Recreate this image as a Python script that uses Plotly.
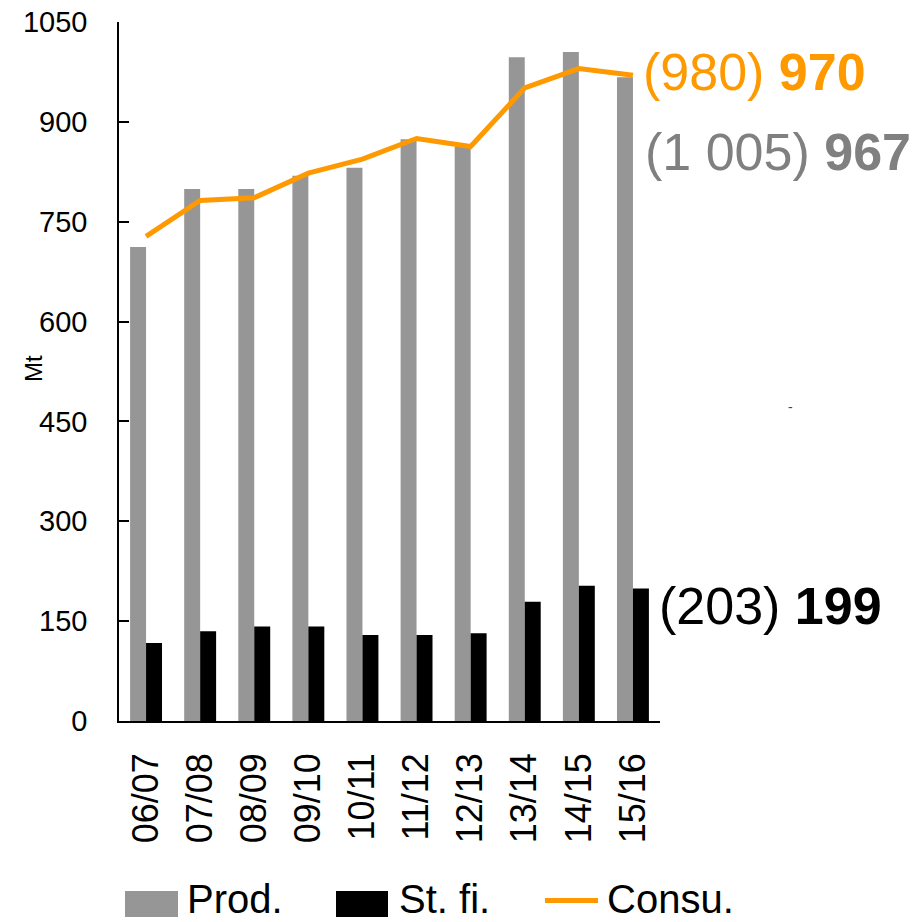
import plotly.graph_objects as go

# ---- data ----
categories = ["06/07", "07/08", "08/09", "09/10", "10/11", "11/12", "12/13", "13/14", "14/15", "15/16"]
prod = [712, 799, 799, 819, 831, 874, 863, 997, 1005, 967]
stock = [117, 135, 142, 142, 129, 129, 132, 179, 203, 199]
consu = [728, 782, 786, 823, 844, 875, 863, 951, 980, 970]
y_ticks = [0, 150, 300, 450, 600, 750, 900, 1050]
label_prod = "(1 005) <b>967</b>"
label_stock = "(203) <b>199</b>"
label_consu = "(980) <b>970</b>"
legend_names = ["Prod.", "St. fi.", "Consu."]
y_title = "Mt"

FONT = "Liberation Sans, Arial, sans-serif"
GRAY = "#969696"
BLACK = "#000000"
ORANGE = "#FF9900"
TEXTGRAY = "#808080"

# body margin is removed by the post script, so the figure fills the window
OFF = 0
W, H = 918 - OFF, 922 - OFF
L, T = 119 - OFF, 22 - OFF
PLOT_RIGHT, PLOT_BOTTOM = 660 - OFF, 721 - OFF
R, B = W - PLOT_RIGHT, H - PLOT_BOTTOM
PW, PH = PLOT_RIGHT - L, PLOT_BOTTOM - T


def px(x):
    return (x - OFF - L) / PW


def py(y):
    return (PLOT_BOTTOM - (y - OFF)) / PH


fig = go.Figure()
fig.add_trace(go.Bar(x=categories, y=prod, name=legend_names[0], marker=dict(color=GRAY, line=dict(width=0))))
fig.add_trace(go.Bar(x=categories, y=stock, name=legend_names[1], marker=dict(color=BLACK, line=dict(width=0))))
fig.add_trace(go.Scatter(x=categories, y=consu, name=legend_names[2], mode="lines",
                         line=dict(color=ORANGE, width=5)))

annotations = [
    dict(x=categories[-1], y=consu[-1], xref="x", yref="y", text=label_consu, showarrow=False,
         xanchor="left", yanchor="middle", xshift=8, yshift=3,
         font=dict(family=FONT, size=52, color=ORANGE)),
    dict(x=categories[-1], y=prod[-1], xref="x", yref="y", text=label_prod, showarrow=False,
         xanchor="left", yanchor="middle", xshift=10, yshift=-75,
         font=dict(family=FONT, size=52, color=TEXTGRAY)),
    dict(x=categories[-1], y=stock[-1], xref="x", yref="y", text=label_stock, showarrow=False,
         xanchor="left", yanchor="middle", xshift=24, yshift=-17,
         font=dict(family=FONT, size=52, color=BLACK)),
    dict(x=px(790), y=py(407), xref="paper", yref="paper", text="-", showarrow=False,
         xanchor="center", yanchor="middle", font=dict(family=FONT, size=14, color="#444444")),
    dict(x=px(33), y=py(368), xref="paper", yref="paper", text=y_title, showarrow=False,
         textangle=-90, xanchor="center", yanchor="middle",
         font=dict(family=FONT, size=24, color=BLACK)),
]

# custom legend
shapes = [
    dict(type="rect", xref="paper", yref="paper", x0=px(125), x1=px(178), y0=py(917), y1=py(891),
         fillcolor=GRAY, line=dict(width=0)),
    dict(type="rect", xref="paper", yref="paper", x0=px(336), x1=px(388), y0=py(917), y1=py(891),
         fillcolor=BLACK, line=dict(width=0)),
    dict(type="line", xref="paper", yref="paper", x0=px(545), x1=px(598), y0=py(900.5), y1=py(900.5),
         line=dict(color=ORANGE, width=5)),
]
for name, xl in zip(legend_names, [186, 398, 606]):
    annotations.append(dict(x=px(xl), y=py(922), xref="paper", yref="paper", text=name, showarrow=False,
                            xanchor="left", yanchor="bottom", borderpad=0,
                            font=dict(family=FONT, size=40, color=BLACK)))

fig.update_layout(
    width=W, height=H,
    margin=dict(l=L, r=R, t=T, b=B, pad=0, autoexpand=False),
    paper_bgcolor="white", plot_bgcolor="white",
    barmode="group", bargap=0.41, bargroupgap=0,
    showlegend=False,
    font=dict(family=FONT, color=BLACK),
    annotations=annotations,
    shapes=shapes,
    xaxis=dict(
        type="category", showline=True, linecolor=BLACK, linewidth=1.5, automargin=False,
        showgrid=False, zeroline=False, ticks="", tickangle=-90,
        tickfont=dict(family=FONT, size=36, color=BLACK), ticklabelstandoff=16,
        range=[-0.5, len(categories) - 0.5],
    ),
    yaxis=dict(
        range=[0, 1050], tickvals=y_ticks, ticktext=[str(v) for v in y_ticks],
        showline=True, linecolor=BLACK, linewidth=1.5, showgrid=False, zeroline=False,
        automargin=False,
        ticks="inside", ticklen=10, tickwidth=1.5, tickcolor=BLACK,
        tickfont=dict(family=FONT, size=29, color=BLACK), ticklabelstandoff=24,
        ticklabeloverflow="allow",
    ),
)

fig.write_html("out.html", config={"displayModeBar": False},
               post_script="document.body.style.margin='0';")
